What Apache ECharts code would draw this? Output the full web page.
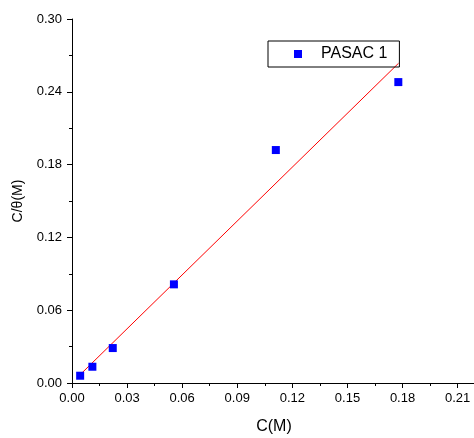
<!DOCTYPE html>
<html>
<head>
<meta charset="utf-8">
<script src="https://cdn.jsdelivr.net/npm/echarts@6/dist/echarts.min.js"></script>
<style>
html,body{margin:0;padding:0;background:#fff;}
#chart{width:474px;height:438px;}
</style>
</head>
<body>
<div id="chart"></div>
<script>
// Data
var concentrations = [0.00444, 0.0111, 0.0222, 0.0555, 0.111, 0.1777];
var ratios = [0.0060, 0.0134, 0.0288, 0.0813, 0.192, 0.248];
var fitX = [0.0044, 0.1778];
var fitY = [0.0068, 0.2635];
var xMajorTicks = [0, 0.03, 0.06, 0.09, 0.12, 0.15, 0.18, 0.21];
var xMinorTicks = [0.015, 0.045, 0.075, 0.105, 0.135, 0.165, 0.195];
var seriesName = 'PASAC 1';
var xTitle = 'C(M)';
var yTitle = 'C/\u03b8(M)';

var FONT = 'Liberation Sans, Arial, sans-serif';
var points = concentrations.map(function (c, i) { return [c, ratios[i]]; });
var fitLine = fitX.map(function (x, i) { return [x, fitY[i]]; });

var chart = echarts.init(document.getElementById('chart'), null, {renderer: 'canvas'});
chart.setOption({
  backgroundColor: '#fff',
  animation: false,
  grid: {left: 72, right: -2, top: 19, bottom: 55, containLabel: false, outerBoundsMode: 'none'},
  legend: {
    data: [seriesName],
    left: 268, top: 41,
    orient: 'horizontal',
    itemWidth: 8, itemHeight: 8,
    padding: [5, 12, 5, 26],
    borderColor: '#000', borderWidth: 1,
    itemStyle: {opacity: 1, color: '#0000ff'},
    textStyle: {fontFamily: FONT, fontSize: 16, color: '#000', padding: [0, 0, 0, 14]}
  },
  xAxis: [{
    type: 'value', min: 0, max: 0.22,
    axisLine: {show: true, lineStyle: {color: '#000', width: 1}},
    axisTick: {show: true, length: 5, inside: false, customValues: xMajorTicks, lineStyle: {color: '#000'}},
    axisLabel: {show: true, customValues: xMajorTicks, margin: 9, fontFamily: FONT, fontSize: 13, color: '#000',
      formatter: function (v) { return v.toFixed(2); }},
    splitLine: {show: false},
    name: xTitle, nameLocation: 'middle', nameGap: 36,
    nameTextStyle: {fontFamily: FONT, fontSize: 16, color: '#000'}
  }, {
    type: 'value', min: 0, max: 0.22, position: 'bottom', gridIndex: 0,
    axisLine: {show: false},
    axisTick: {show: true, length: 3, inside: false, customValues: xMinorTicks, lineStyle: {color: '#000'}},
    axisLabel: {show: false},
    splitLine: {show: false}
  }],
  yAxis: {
    type: 'value', min: 0, max: 0.3, interval: 0.06,
    axisLine: {show: true, lineStyle: {color: '#000', width: 1}},
    axisTick: {show: true, length: 5, inside: false, lineStyle: {color: '#000'}},
    minorTick: {show: true, splitNumber: 2, length: 3, lineStyle: {color: '#000'}},
    axisLabel: {margin: 10, fontFamily: FONT, fontSize: 13, color: '#000',
      formatter: function (v) { return v.toFixed(2); }},
    splitLine: {show: false},
    name: yTitle, nameLocation: 'middle', nameGap: 47,
    nameTextStyle: {fontFamily: FONT, fontSize: 14, color: '#000'}
  },
  series: [{
    name: 'fit', type: 'line', data: fitLine, xAxisIndex: 0,
    showSymbol: false, symbol: 'none',
    lineStyle: {color: '#ff0000', width: 1}, z: 2, silent: true
  }, {
    name: seriesName, type: 'scatter', data: points, xAxisIndex: 0,
    symbol: 'rect', symbolSize: 8,
    itemStyle: {color: '#0000ff', opacity: 1}, z: 3
  }]
});
</script>
</body>
</html>
